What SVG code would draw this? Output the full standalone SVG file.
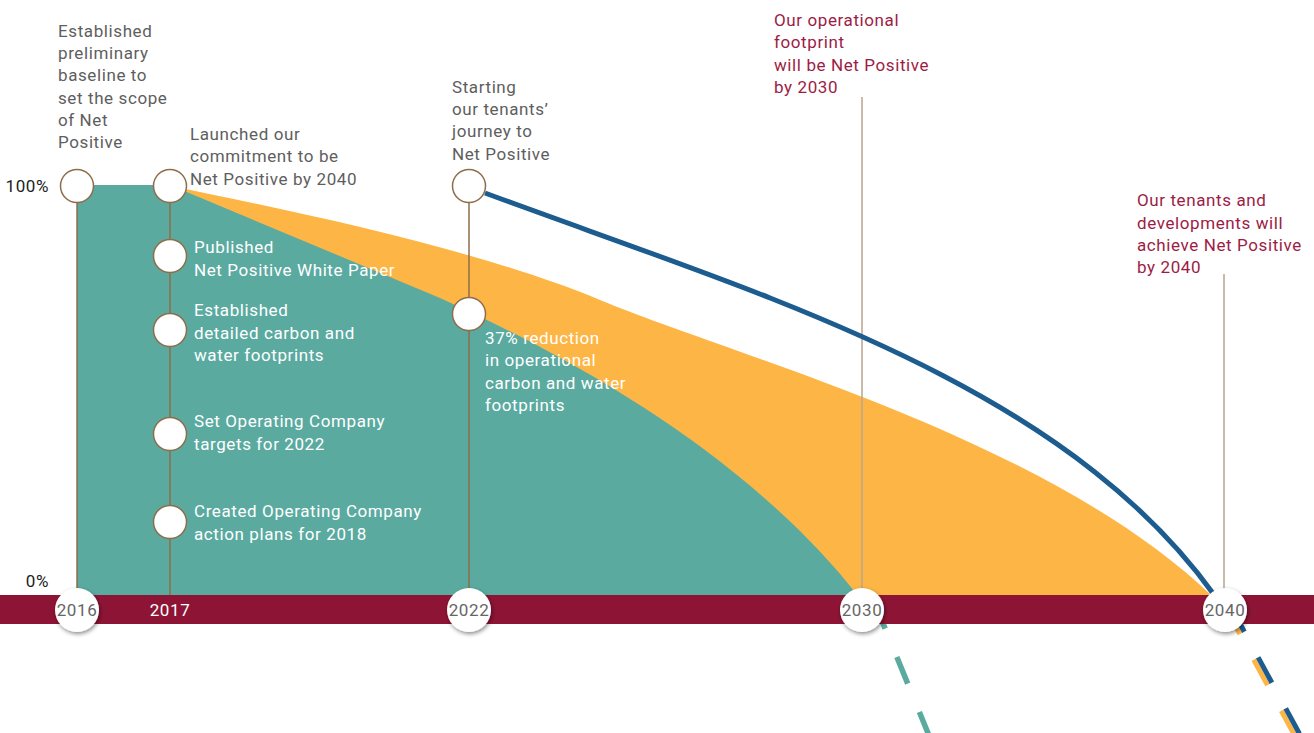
<svg xmlns="http://www.w3.org/2000/svg" width="1314" height="733" viewBox="0 0 1314 733">
<style>
text{font-family:Roboto,"DejaVu Sans",sans-serif;font-size:17px;letter-spacing:0.6px}
.g{fill:#5e5e5e}
.w{fill:#ffffff}
.r{fill:#9c1c45}
.k{fill:#222222;text-anchor:end}
.ax{fill:#666666;font-size:17px;text-anchor:middle}
.vl{stroke:#8f6d4b;stroke-width:1.5;fill:none}
.vl2{stroke:#b8a48d;stroke-width:1.5;fill:none}
.node{fill:#ffffff;stroke:#8f6d4b;stroke-width:1.5}
.axc{fill:#ffffff;filter:url(#sh)}
</style>
<defs>
<filter id="sh" x="-50%" y="-50%" width="200%" height="200%">
<feDropShadow dx="1" dy="2" stdDeviation="2" flood-color="#000" flood-opacity="0.45"/>
</filter>
</defs>
<g id="areas">
<path d="M170,186 C300,212 480,250 600,300 C740,358 1050,440 1212,596 L170,596 Z" fill="#fdb645"/>
<path d="M77,185 L170,185 L440,298 C600,370 760,470 858,596 L77,596 Z" fill="#5aaaa0"/>
</g>
<g id="connectors">
<line class="vl" x1="77" y1="186" x2="77" y2="596"/>
<line class="vl" x1="170" y1="186" x2="170" y2="596"/>
<line class="vl" x1="469" y1="186" x2="469" y2="596"/>
<line class="vl2" x1="862" y1="97" x2="862" y2="596"/>
<line class="vl2" x1="1224" y1="274" x2="1224" y2="596"/>
<path d="M485,193 C760,295 1060,380 1215,596" fill="none" stroke="#1c5c8f" stroke-width="5"/>
<path d="M874.3,602.1 L937.8,757" fill="none" stroke="#5aaaa0" stroke-width="5.5" stroke-dasharray="28.7 30.7"/>
<path d="M1226.2,608.7 L1307.2,758.7" fill="none" stroke="#fdb645" stroke-width="5" stroke-dasharray="28.9 29.1"/>
<path d="M1230.6,606.3 L1311.6,756.3" fill="none" stroke="#1c5c8f" stroke-width="5" stroke-dasharray="28.9 29.1"/>
</g>
<g id="axis">
<rect x="0" y="595" width="1314" height="29" fill="#8e1435"/>
<text class="k" x="49" y="192">100%</text>
<text class="k" x="49" y="587">0%</text>
</g>
<g id="n2016"><circle class="axc" cx="77" cy="610" r="22"/><text class="ax" x="77" y="616">2016</text></g>
<g id="n2017"><text class="w" x="170" y="616" text-anchor="middle">2017</text></g>
<g id="n2022"><circle class="axc" cx="469" cy="610" r="22"/><text class="ax" x="469" y="616">2022</text></g>
<g id="n2030"><circle class="axc" cx="862" cy="610" r="22"/><text class="ax" x="862" y="616">2030</text></g>
<g id="n2040"><circle class="axc" cx="1225" cy="610" r="22"/><text class="ax" x="1225" y="616">2040</text></g>
<g id="baseline">
<circle class="node" cx="77" cy="186" r="16.5"/>
<text class="g" x="58" y="37">Established</text>
<text class="g" x="58" y="59">preliminary</text>
<text class="g" x="58" y="81">baseline to</text>
<text class="g" x="58" y="104">set the scope</text>
<text class="g" x="58" y="126">of Net</text>
<text class="g" x="58" y="148">Positive</text>
</g>
<g id="launched">
<circle class="node" cx="170" cy="186" r="16.5"/>
<text class="g" x="190" y="140">Launched our</text>
<text class="g" x="190" y="162">commitment to be</text>
<text class="g" x="190" y="185">Net Positive by 2040</text>
</g>
<g id="published">
<circle class="node" cx="170" cy="256" r="16.5"/>
<text class="w" x="194" y="253">Published</text>
<text class="w" x="194" y="276">Net Positive White Paper</text>
</g>
<g id="footprints">
<circle class="node" cx="170" cy="330" r="16.5"/>
<text class="w" x="194" y="316">Established</text>
<text class="w" x="194" y="339">detailed carbon and</text>
<text class="w" x="194" y="361">water footprints</text>
</g>
<g id="targets">
<circle class="node" cx="170" cy="434" r="16.5"/>
<text class="w" x="194" y="427">Set Operating Company</text>
<text class="w" x="194" y="450">targets for 2022</text>
</g>
<g id="plans">
<circle class="node" cx="170" cy="522" r="16.5"/>
<text class="w" x="194" y="517">Created Operating Company</text>
<text class="w" x="194" y="540">action plans for 2018</text>
</g>
<g id="tenants">
<circle class="node" cx="469" cy="186" r="16.5"/>
<text class="g" x="452" y="93">Starting</text>
<text class="g" x="452" y="115">our tenants’</text>
<text class="g" x="452" y="137">journey to</text>
<text class="g" x="452" y="160">Net Positive</text>
</g>
<g id="reduction">
<circle class="node" cx="469" cy="314" r="16.5"/>
<text class="w" x="485" y="344">37% reduction</text>
<text class="w" x="485" y="366">in operational</text>
<text class="w" x="485" y="389">carbon and water</text>
<text class="w" x="485" y="411">footprints</text>
</g>
<g id="goal2030">
<text class="r" x="774" y="26">Our operational</text>
<text class="r" x="774" y="48">footprint</text>
<text class="r" x="774" y="71">will be Net Positive</text>
<text class="r" x="774" y="93">by 2030</text>
</g>
<g id="goal2040">
<text class="r" x="1137" y="206">Our tenants and</text>
<text class="r" x="1137" y="229">developments will</text>
<text class="r" x="1137" y="251">achieve Net Positive</text>
<text class="r" x="1137" y="273">by 2040</text>
</g>
</svg>
